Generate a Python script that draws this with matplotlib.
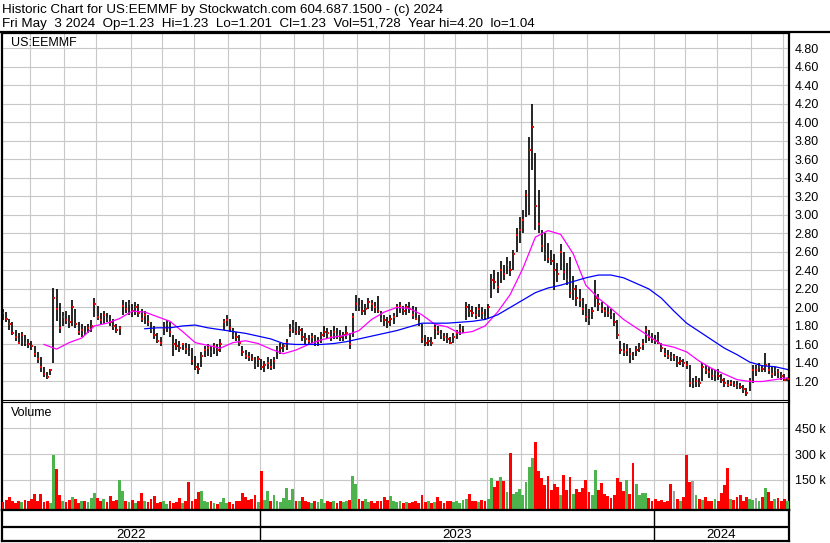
import numpy as np
import matplotlib
matplotlib.use("Agg")
import matplotlib.pyplot as plt
from matplotlib.lines import Line2D

plt.rcParams['font.family'] = ['Liberation Sans', 'DejaVu Sans']

# one bar = 2 trading days, mid May 2022 .. May 3 2024
highs = [1.98, 1.95, 1.88, 1.84, 1.76, 1.72, 1.74, 1.70, 1.66, 1.64,
         1.58, 1.52, 1.46, 1.36, 1.30, 1.34, 2.21, 2.20, 2.05, 1.95,
         1.96, 1.92, 2.08, 1.98, 1.84, 1.82, 1.80, 1.82, 1.86, 2.10,
         2.02, 1.94, 1.96, 1.94, 1.92, 1.88, 1.82, 1.80, 2.08, 2.06,
         2.08, 2.04, 2.06, 2.04, 1.98, 1.96, 1.92, 1.84, 1.80, 1.72,
         1.68, 1.84, 1.86, 1.84, 1.70, 1.66, 1.64, 1.62, 1.62, 1.60,
         1.56, 1.48, 1.40, 1.52, 1.58, 1.60, 1.58, 1.62, 1.60, 1.66,
         1.88, 1.92, 1.88, 1.78, 1.74, 1.70, 1.58, 1.54, 1.52, 1.50,
         1.46, 1.48, 1.44, 1.42, 1.46, 1.44, 1.46, 1.58, 1.62, 1.60,
         1.66, 1.82, 1.86, 1.84, 1.80, 1.78, 1.72, 1.70, 1.72, 1.70,
         1.68, 1.74, 1.80, 1.78, 1.76, 1.80, 1.78, 1.76, 1.74, 1.80,
         1.72, 1.94, 2.13, 2.10, 2.08, 2.04, 2.10, 2.08, 2.06, 2.12,
         1.96, 1.92, 1.90, 1.92, 1.94, 2.04, 2.06, 2.02, 2.04, 2.06,
         2.02, 2.00, 1.92, 1.82, 1.70, 1.68, 1.68, 1.82, 1.80, 1.76,
         1.72, 1.72, 1.68, 1.72, 1.76, 1.82, 1.80, 2.06, 2.04, 2.02,
         2.00, 2.04, 2.00, 1.98, 2.04, 2.36, 2.40, 2.38, 2.50, 2.46,
         2.54, 2.50, 2.62, 2.86, 2.98, 3.05, 3.27, 3.84, 4.20, 3.67,
         3.27, 2.84, 2.80, 2.70, 2.62, 2.58, 2.48, 2.69, 2.60, 2.48,
         2.54, 2.34, 2.24, 2.20, 2.10, 2.04, 1.98, 2.00, 2.30, 2.14,
         2.06, 2.00, 2.02, 1.98, 1.94, 1.86, 1.64, 1.62, 1.60, 1.56,
         1.52, 1.58, 1.62, 1.66, 1.80, 1.76, 1.72, 1.70, 1.74, 1.62,
         1.56, 1.54, 1.52, 1.50, 1.48, 1.46, 1.44, 1.42, 1.38, 1.24,
         1.26, 1.24, 1.40, 1.38, 1.36, 1.34, 1.32, 1.34, 1.28, 1.24,
         1.22, 1.22, 1.20, 1.20, 1.18, 1.16, 1.13, 1.24, 1.38, 1.38,
         1.40, 1.38, 1.51, 1.40, 1.36, 1.36, 1.34, 1.30, 1.28, 1.24]
lows = [1.86, 1.84, 1.76, 1.70, 1.64, 1.60, 1.58, 1.58, 1.56, 1.54,
        1.46, 1.40, 1.30, 1.25, 1.23, 1.27, 1.40, 1.85, 1.72, 1.80,
        1.82, 1.78, 1.80, 1.78, 1.70, 1.68, 1.70, 1.72, 1.74, 1.90,
        1.86, 1.82, 1.82, 1.84, 1.80, 1.76, 1.72, 1.70, 1.92, 1.94,
        1.92, 1.90, 1.92, 1.90, 1.84, 1.82, 1.80, 1.72, 1.66, 1.62,
        1.58, 1.70, 1.74, 1.68, 1.48, 1.54, 1.52, 1.54, 1.50, 1.48,
        1.38, 1.32, 1.28, 1.36, 1.46, 1.48, 1.46, 1.50, 1.48, 1.52,
        1.76, 1.80, 1.74, 1.66, 1.64, 1.58, 1.48, 1.44, 1.42, 1.42,
        1.34, 1.36, 1.32, 1.30, 1.34, 1.32, 1.34, 1.44, 1.50, 1.52,
        1.54, 1.68, 1.72, 1.70, 1.70, 1.64, 1.60, 1.60, 1.62, 1.58,
        1.58, 1.62, 1.68, 1.66, 1.64, 1.66, 1.66, 1.64, 1.64, 1.66,
        1.55, 1.68, 1.96, 1.96, 1.92, 1.92, 1.98, 1.96, 1.94, 1.94,
        1.84, 1.80, 1.78, 1.80, 1.82, 1.90, 1.94, 1.92, 1.92, 1.94,
        1.88, 1.86, 1.80, 1.62, 1.58, 1.58, 1.58, 1.66, 1.70, 1.66,
        1.64, 1.62, 1.60, 1.62, 1.66, 1.70, 1.72, 1.86, 1.90, 1.90,
        1.88, 1.90, 1.88, 1.86, 1.88, 2.10, 2.20, 2.16, 2.26, 2.30,
        2.36, 2.34, 2.40, 2.60, 2.70, 2.80, 2.98, 3.00, 3.48, 2.84,
        2.80, 2.60, 2.50, 2.48, 2.46, 2.19, 2.28, 2.40, 2.30, 2.24,
        2.10, 2.08, 2.02, 2.00, 1.92, 1.84, 1.81, 1.88, 2.00, 1.96,
        1.94, 1.90, 1.90, 1.88, 1.80, 1.66, 1.50, 1.48, 1.48, 1.40,
        1.43, 1.48, 1.52, 1.54, 1.62, 1.64, 1.62, 1.60, 1.60, 1.52,
        1.46, 1.44, 1.42, 1.42, 1.36, 1.38, 1.36, 1.34, 1.14, 1.13,
        1.14, 1.14, 1.20, 1.28, 1.24, 1.22, 1.20, 1.22, 1.18, 1.14,
        1.14, 1.15, 1.14, 1.12, 1.12, 1.08, 1.04, 1.10, 1.18, 1.26,
        1.30, 1.30, 1.30, 1.28, 1.24, 1.26, 1.24, 1.22, 1.20, 1.20]
closes = [1.94, 1.88, 1.82, 1.72, 1.68, 1.62, 1.70, 1.62, 1.60, 1.58,
          1.50, 1.44, 1.36, 1.28, 1.25, 1.32, 2.10, 1.98, 1.78, 1.90,
          1.86, 1.84, 2.00, 1.82, 1.74, 1.76, 1.74, 1.78, 1.80, 2.04,
          1.90, 1.86, 1.92, 1.88, 1.84, 1.80, 1.76, 1.78, 2.02, 1.98,
          2.04, 1.96, 2.00, 1.94, 1.88, 1.92, 1.84, 1.76, 1.70, 1.64,
          1.62, 1.78, 1.82, 1.74, 1.60, 1.58, 1.56, 1.60, 1.55, 1.52,
          1.42, 1.36, 1.34, 1.48, 1.54, 1.56, 1.52, 1.58, 1.54, 1.60,
          1.84, 1.86, 1.78, 1.70, 1.68, 1.62, 1.52, 1.48, 1.46, 1.44,
          1.38, 1.44, 1.36, 1.38, 1.40, 1.36, 1.42, 1.54, 1.56, 1.58,
          1.62, 1.76, 1.80, 1.74, 1.76, 1.68, 1.66, 1.64, 1.68, 1.62,
          1.64, 1.70, 1.74, 1.72, 1.68, 1.74, 1.70, 1.68, 1.70, 1.72,
          1.60, 1.90, 2.04, 2.02, 1.96, 1.98, 2.06, 2.04, 2.00, 1.96,
          1.88, 1.86, 1.84, 1.88, 1.90, 2.00, 2.02, 1.96, 2.00, 1.98,
          1.92, 1.88, 1.84, 1.66, 1.62, 1.64, 1.62, 1.78, 1.74, 1.70,
          1.68, 1.66, 1.62, 1.68, 1.72, 1.76, 1.78, 2.00, 1.96, 1.94,
          1.92, 1.98, 1.94, 1.90, 2.00, 2.30, 2.28, 2.22, 2.40, 2.36,
          2.46, 2.40, 2.58, 2.78, 2.84, 2.95, 3.22, 3.70, 3.95, 3.10,
          2.90, 2.66, 2.58, 2.52, 2.50, 2.40, 2.36, 2.60, 2.38, 2.30,
          2.16, 2.20, 2.10, 2.08, 1.98, 1.90, 1.86, 1.96, 2.10, 2.04,
          1.98, 1.96, 1.94, 1.92, 1.84, 1.70, 1.54, 1.52, 1.54, 1.50,
          1.46, 1.54, 1.56, 1.60, 1.76, 1.68, 1.66, 1.64, 1.62, 1.56,
          1.50, 1.48, 1.46, 1.46, 1.40, 1.42, 1.40, 1.38, 1.18, 1.18,
          1.20, 1.18, 1.36, 1.32, 1.30, 1.26, 1.28, 1.26, 1.22, 1.18,
          1.16, 1.18, 1.16, 1.15, 1.14, 1.12, 1.08, 1.20, 1.32, 1.32,
          1.36, 1.34, 1.38, 1.32, 1.28, 1.32, 1.30, 1.26, 1.22, 1.23]
volumes_k = [20, 35, 52, 25, 15, 30, 20, 35, 28, 40,
             66, 25, 68, 20, 30, 15, 294, 213, 60, 25,
             20, 35, 52, 40, 15, 30, 25, 20, 45, 75,
             45, 30, 40, 20, 56, 25, 35, 149, 85, 30,
             20, 35, 15, 25, 74, 30, 20, 40, 58, 15,
             20, 30, 10, 25, 15, 20, 45, 15, 30, 135,
             25, 40, 81, 85, 30, 20, 25, 15, 10, 20,
             43, 15, 20, 10, 25, 30, 72, 52, 35, 40,
             62, 20, 201, 35, 85, 30, 62, 25, 20, 43,
             104, 35, 100, 30, 25, 52, 30, 20, 15, 25,
             20, 40, 15, 30, 20, 25, 15, 30, 20, 25,
             35, 172, 126, 40, 25, 40, 20, 30, 15, 25,
             30, 52, 35, 58, 25, 20, 30, 15, 20, 14,
             20, 25, 15, 62, 20, 30, 15, 20, 52, 25,
             15, 30, 25, 20, 30, 15, 35, 40, 68, 25,
             30, 20, 35, 25, 40, 163, 110, 143, 168, 143,
             77, 304, 66, 80, 97, 60, 135, 226, 275, 371,
             201, 159, 120, 172, 91, 124, 110, 60, 178, 90,
             168, 70, 100, 80, 104, 149, 81, 60, 207, 90,
             130, 70, 55, 45, 60, 163, 135, 85, 149, 70,
             250, 126, 60, 72, 72, 45, 30, 40, 25, 35,
             20, 30, 126, 85, 40, 30, 50, 294, 139, 143,
             60, 40, 35, 50, 30, 25, 40, 30, 72, 120,
             217, 40, 35, 50, 62, 30, 52, 40, 35, 43,
             30, 50, 104, 77, 30, 40, 46, 25, 39, 30]

# moving averages read every 4 bars
ma_fast_start = 13
ma_fast = [1.60, 1.55, 1.62, 1.67, 1.80, 1.83, 1.88, 1.96, 1.95, 1.90,
           1.85, 1.74, 1.62, 1.59, 1.56, 1.62, 1.64, 1.61, 1.55, 1.50,
           1.54, 1.60, 1.65, 1.68, 1.70, 1.75, 1.87, 1.95, 2.00, 1.99,
           1.92, 1.82, 1.79, 1.72, 1.74, 1.80, 1.95, 2.14, 2.42, 2.76,
           2.83, 2.79, 2.58, 2.24, 2.10, 1.99, 1.87, 1.78, 1.69, 1.60,
           1.57, 1.52, 1.42, 1.34, 1.28, 1.22, 1.20, 1.20, 1.22, 1.24]
ma_slow_start = 45
ma_slow = [1.77, 1.78, 1.78, 1.80, 1.81, 1.78, 1.76, 1.74, 1.72, 1.69,
           1.66, 1.61, 1.60, 1.60, 1.60, 1.61, 1.63, 1.66, 1.69, 1.72,
           1.75, 1.79, 1.83, 1.83, 1.83, 1.84, 1.85, 1.87, 1.92, 2.00,
           2.08, 2.16, 2.21, 2.24, 2.28, 2.32, 2.35, 2.35, 2.32, 2.26,
           2.20, 2.10, 1.96, 1.83, 1.74, 1.65, 1.56, 1.49, 1.41, 1.37,
           1.36, 1.33]

# bars per month, May 2022 .. May 2024
month_bars = [9, 11, 10, 11, 10, 10, 11, 10, 11, 9, 11, 10, 11, 10, 10,
              11, 10, 11, 10, 11, 10, 10, 11, 10, 2]
years = ["2022", "2023", "2024"]
price_ticks = np.arange(1.2, 4.81, 0.2)
vol_ticks = [150, 300, 450]

W, H = 830, 543
fig = plt.figure(figsize=(W / 100, H / 100), dpi=100)


def box(l, t, r, b):
    return [l / W, 1 - b / H, (r - l) / W, (b - t) / H]


ax = fig.add_axes(box(2, 33, 789, 400))
axv = fig.add_axes(box(2, 402, 789, 510), sharex=ax)
axd = fig.add_axes(box(2, 510, 789, 541), sharex=ax)

x = np.arange(len(closes))
month_lines = np.cumsum(month_bars)[:-1] - 0.5
grid_c = "#c8c8c8"

# price panel
ax.vlines(x, lows, highs, color="black", lw=1.2, zorder=3)
ax.hlines(closes, x - 0.1, x + 0.45, color="red", lw=1.4, zorder=4)
ax.plot(np.arange(len(ma_fast)) * 4 + ma_fast_start, ma_fast, color="#ff00ff", lw=0.9, zorder=5)
ax.plot(np.arange(len(ma_slow)) * 4 + ma_slow_start, ma_slow, color="#0000ff", lw=0.9, zorder=5)
ax.set_xlim(-0.32, 249.5)
ax.set_ylim(1.0, 4.965)
ax.set_yticks(price_ticks)
ax.set_yticklabels([f"{t:.2f}" for t in price_ticks])
ax.set_xticks(month_lines)
ax.grid(True, color=grid_c, lw=0.8)
ax.set_axisbelow(True)
ax.yaxis.tick_right()
ax.tick_params(axis="y", length=0, pad=4, labelsize=9)
ax.tick_params(axis="x", length=0, labelbottom=False)
ax.text(9 / 787, 1 - 10 / 367, "US:EEMMF", transform=ax.transAxes, fontsize=9, va="center", ha="left")

# volume panel
colors = ["#ff0000"]
for prev, cur in zip(closes[:-1], closes[1:]):
    colors.append("#4db34d" if cur > prev else "#ff0000" if cur < prev else "#a0a0a0")
vb = -25
axv.bar(x, np.array(volumes_k) - vb, bottom=vb, width=0.9, color=colors, lw=0, zorder=3)
axv.set_ylim(vb, 603)
axv.set_yticks(vol_ticks)
axv.set_yticklabels([f"{v} k" for v in vol_ticks])
axv.grid(True, color=grid_c, lw=0.8)
axv.set_axisbelow(True)
axv.yaxis.tick_right()
axv.tick_params(axis="y", length=0, pad=4, labelsize=9)
axv.tick_params(axis="x", length=0, labelbottom=False)
axv.text(9 / 787, 1 - 11 / 108, "Volume", transform=axv.transAxes, fontsize=9, va="center", ha="left")

# date strip
axd.set_ylim(0, 1)
axd.set_yticks([])
axd.tick_params(axis="x", length=0, labelbottom=False)
axd.axhline((541 - 527) / 31, color="black", lw=1.6)
seps = [month_lines[7], month_lines[19]]
for s in seps:
    axd.axvline(s, color="black", lw=1.0)
edges = [-0.32] + seps + [249.5]
for i, yr in enumerate(years):
    axd.text((edges[i] + edges[i + 1]) / 2, (541 - 535) / 31, yr, ha="center", va="center", fontsize=9.5)

for a in (ax, axv, axd):
    for side in ("left", "right"):
        a.spines[side].set_linewidth(1.6)
ax.spines["top"].set_linewidth(1.6)
ax.spines["bottom"].set_linewidth(0.8)
axv.spines["top"].set_linewidth(0.8)
axv.spines["bottom"].set_linewidth(1.6)
axd.spines["top"].set_linewidth(1.6)
axd.spines["bottom"].set_linewidth(1.6)

fig.add_artist(Line2D([0, 1], [1 - 32 / H] * 2, transform=fig.transFigure, color="black", lw=1.6))

fig.text(2 / W, 1 - 12.5 / H, "Historic Chart for US:EEMMF by Stockwatch.com 604.687.1500 - (c) 2024",
         fontsize=9.65, va="baseline", ha="left")
fig.text(2 / W, 1 - 26.5 / H,
         "Fri May  3 2024  Op=1.23  Hi=1.23  Lo=1.201  Cl=1.23  Vol=51,728  Year hi=4.20  lo=1.04",
         fontsize=9.65, va="baseline", ha="left")

fig.savefig("out.png", dpi=100)
